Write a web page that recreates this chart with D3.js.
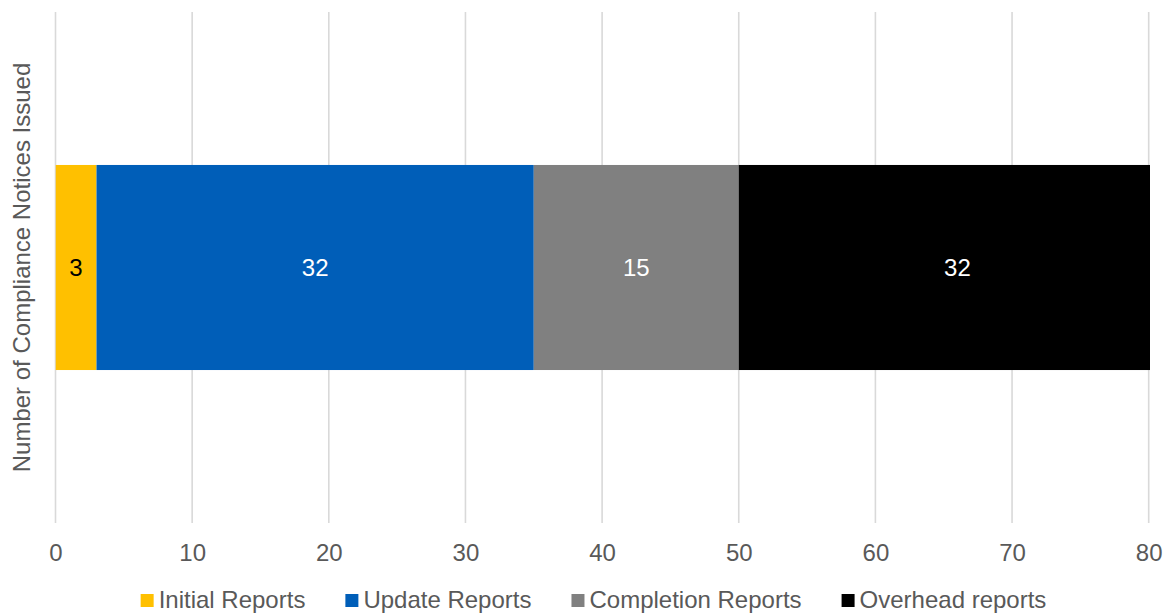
<!DOCTYPE html>
<html>
<head>
<meta charset="utf-8">
<script src="https://cdn.jsdelivr.net/npm/d3@7"></script>
<style>
  html, body { margin: 0; padding: 0; background: #fff; }
  text { font-family: "Liberation Sans", Arial, sans-serif; }
</style>
</head>
<body>
<svg id="chart" width="1168" height="614"></svg>
<script>
// Compliance notices issued, by report type (stacked)
const seriesNames = ["Initial Reports", "Update Reports", "Completion Reports", "Overhead reports"];
const seriesValues = [3, 32, 15, 32];
const seriesColors = ["#FFC000", "#005EB8", "#808080", "#000000"];
const labelColors = ["#000000", "#ffffff", "#ffffff", "#ffffff"];
const xTicks = [0, 10, 20, 30, 40, 50, 60, 70, 80];
const axisTitle = "Number of Compliance Notices Issued";

const svg = d3.select("#chart");
const plot = { left: 55.5, right: 1148.7, top: 12, bottom: 523 };

const x = d3.scaleLinear().domain([0, 80]).range([plot.left, plot.right]);
const y = d3.scaleBand().domain(["all"]).range([plot.top, plot.bottom]).paddingInner(0).paddingOuter(0.746);

// gridlines
svg.append("g")
  .selectAll("line")
  .data(xTicks)
  .join("line")
  .attr("x1", d => x(d)).attr("x2", d => x(d))
  .attr("y1", plot.top).attr("y2", plot.bottom)
  .attr("stroke", "#d9d9d9")
  .attr("stroke-width", 1.6);

// stack the segments
let acc = 0;
const segs = seriesValues.map((v, i) => {
  const s = { name: seriesNames[i], value: v, x0: acc, x1: acc + v, color: seriesColors[i], lc: labelColors[i] };
  acc += v;
  return s;
});

svg.append("defs").append("clipPath").attr("id", "plotClip")
  .append("rect")
  .attr("x", plot.left).attr("y", 0)
  .attr("width", x(80) - plot.left + 1.3).attr("height", 614);

const barY = y("all");
const barH = y.bandwidth();

svg.append("g").attr("clip-path", "url(#plotClip)")
  .selectAll("rect")
  .data(segs)
  .join("rect")
  .attr("x", d => x(d.x0))
  .attr("width", d => x(d.x1) - x(d.x0))
  .attr("y", barY)
  .attr("height", barH)
  .attr("fill", d => d.color);

svg.append("g")
  .selectAll("text")
  .data(segs)
  .join("text")
  .attr("x", d => x((d.x0 + d.x1) / 2))
  .attr("y", barY + barH / 2)
  .attr("dy", "0.35em")
  .attr("text-anchor", "middle")
  .attr("font-size", 24)
  .attr("fill", d => d.lc)
  .text(d => d.value);

// x axis tick labels
const xAxis = d3.axisBottom(x).tickValues(xTicks).tickSize(0).tickPadding(0);
const gx = svg.append("g").attr("transform", `translate(0,${plot.bottom})`).call(xAxis);
gx.select(".domain").remove();
gx.selectAll("text")
  .attr("y", 38)
  .attr("dy", 0)
  .attr("font-size", 24)
  .attr("font-family", "Liberation Sans, Arial, sans-serif")
  .attr("fill", "#595959");

// y axis title
svg.append("text")
  .attr("transform", `translate(30,${(plot.top + plot.bottom) / 2}) rotate(-90)`)
  .attr("text-anchor", "middle")
  .attr("font-size", 24)
  .attr("fill", "#595959")
  .text(axisTitle);

// legend
const legend = svg.append("g");
const items = legend.selectAll("g")
  .data(seriesNames)
  .join("g");
items.append("rect")
  .attr("width", 13).attr("height", 13)
  .attr("y", 594)
  .attr("fill", (d, i) => seriesColors[i]);
items.append("text")
  .attr("x", 18)
  .attr("y", 608)
  .attr("font-size", 24)
  .attr("fill", "#595959")
  .text(d => d);

const gap = 40;
let widths = [];
items.each(function () {
  widths.push(18 + d3.select(this).select("text").node().getComputedTextLength());
});
const total = d3.sum(widths) + gap * (widths.length - 1);
let cx = 593.5 - total / 2;
items.each(function (d, i) {
  d3.select(this).attr("transform", `translate(${cx},0)`);
  cx += widths[i] + gap;
});
</script>
</body>
</html>
